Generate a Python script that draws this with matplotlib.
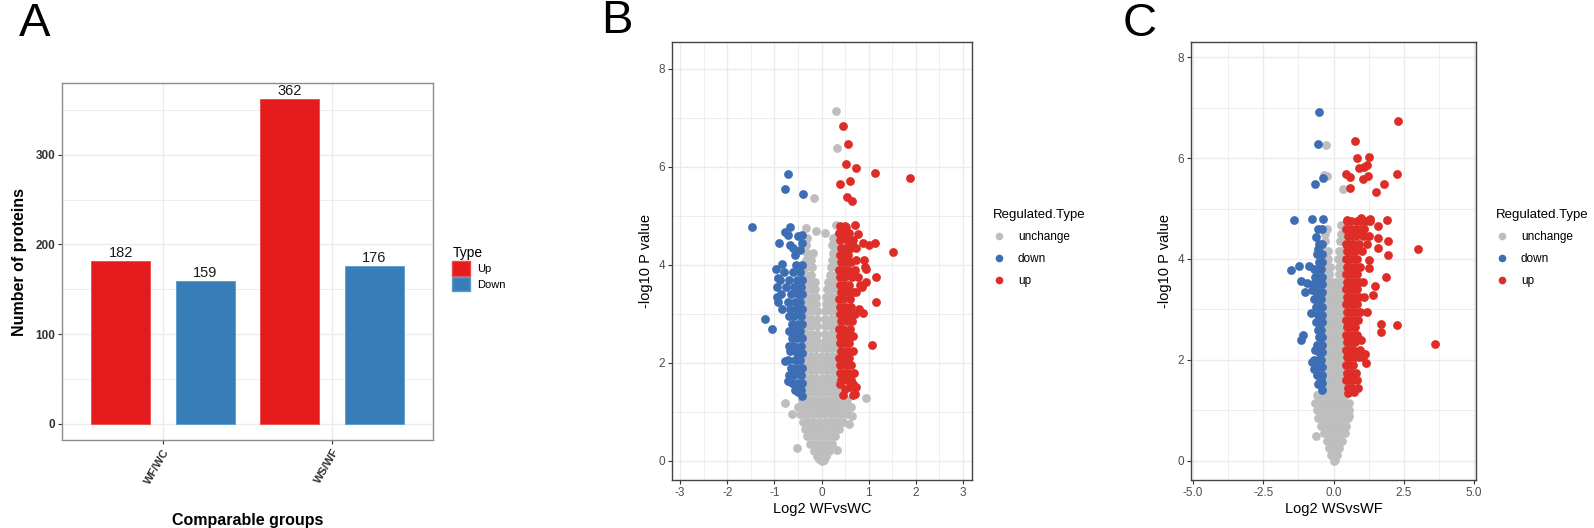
import numpy as np
import matplotlib
matplotlib.use('Agg')
from matplotlib import pyplot as plt
from matplotlib.patches import Patch
from matplotlib.lines import Line2D
from matplotlib.ticker import MultipleLocator

plt.rcParams['font.family'] = ['Liberation Sans', 'DejaVu Sans']
plt.rcParams['axes.unicode_minus'] = False

# ---- panel A data ----
groups = ['WF/WC', 'WS/WF']
up_counts = [182, 362]
down_counts = [159, 176]

# ---- panel B data (Log2 WFvsWC, -log10 P) ----
b_unchange = [
    (0.30, 7.15), (0.33, 6.38), (-0.16, 5.37), (-0.32, 4.76), (-0.11, 4.69), (0.08, 4.65), (0.30, 4.81),
    (-0.78, 1.19), (0.94, 1.29), (-0.51, 0.26), (0.64, 0.91), (0.33, 0.23), (0.58, 0.75), (-0.62, 0.95),
    (0.00, 0.00), (0.05, 0.02), (-0.05, 0.03),
    (-0.10, 0.10), (0.00, 0.10), (0.10, 0.10),
    (-0.15, 0.20), (-0.05, 0.20), (0.05, 0.20), (0.15, 0.20),
    (-0.25, 0.35), (-0.12, 0.35), (0.00, 0.35), (0.12, 0.35), (0.22, 0.35),
    (-0.30, 0.50), (-0.18, 0.50), (-0.06, 0.50), (0.06, 0.50), (0.18, 0.50), (0.28, 0.50),
    (-0.35, 0.65), (-0.22, 0.65), (-0.10, 0.65), (0.02, 0.65), (0.14, 0.65), (0.26, 0.65), (0.36, 0.65),
    (-0.40, 0.80), (-0.28, 0.80), (-0.15, 0.80), (-0.03, 0.80), (0.10, 0.80), (0.22, 0.80), (0.34, 0.80), (0.45, 0.80),
    (-0.45, 0.95), (-0.32, 0.95), (-0.20, 0.95), (-0.08, 0.95), (0.05, 0.95), (0.18, 0.95), (0.30, 0.95), (0.42, 0.95), (0.55, 0.95),
    (-0.50, 1.10), (-0.36, 1.10), (-0.24, 1.10), (-0.12, 1.10), (0.00, 1.10), (0.12, 1.10), (0.25, 1.10), (0.38, 1.10), (0.52, 1.10), (0.62, 1.10),
    (-0.42, 1.25), (-0.30, 1.25), (-0.18, 1.25), (-0.06, 1.25), (0.06, 1.25), (0.18, 1.25), (0.30, 1.25), (0.42, 1.25), (0.55, 1.25),
    (-0.35, 1.40), (-0.24, 1.40), (-0.12, 1.40), (0.00, 1.40), (0.12, 1.40), (0.24, 1.40), (0.33, 1.40),
    (-0.33, 1.55), (-0.22, 1.55), (-0.11, 1.55), (0.00, 1.55), (0.11, 1.55), (0.22, 1.55), (0.32, 1.55),
    (-0.33, 1.70), (-0.22, 1.70), (-0.11, 1.70), (0.00, 1.70), (0.11, 1.70), (0.22, 1.70), (0.32, 1.70),
    (-0.33, 1.85), (-0.22, 1.85), (-0.11, 1.85), (0.00, 1.85), (0.11, 1.85), (0.22, 1.85), (0.32, 1.85),
    (-0.33, 2.00), (-0.22, 2.00), (-0.11, 2.00), (0.00, 2.00), (0.11, 2.00), (0.22, 2.00), (0.32, 2.00),
    (-0.33, 2.15), (-0.22, 2.15), (-0.11, 2.15), (0.00, 2.15), (0.11, 2.15), (0.22, 2.15), (0.32, 2.15),
    (-0.33, 2.30), (-0.22, 2.30), (-0.11, 2.30), (0.02, 2.30), (0.12, 2.30), (0.22, 2.30), (0.32, 2.30),
    (-0.33, 2.45), (-0.22, 2.45), (-0.10, 2.45), (0.08, 2.45), (0.20, 2.45), (0.31, 2.45),
    (-0.33, 2.60), (-0.22, 2.60), (-0.10, 2.60), (0.08, 2.60), (0.20, 2.60), (0.31, 2.60),
    (-0.33, 2.75), (-0.22, 2.75), (-0.10, 2.75), (0.08, 2.75), (0.20, 2.75), (0.31, 2.75),
    (-0.33, 2.90), (-0.22, 2.90), (-0.10, 2.90), (0.08, 2.90), (0.20, 2.90), (0.31, 2.90),
    (-0.33, 3.05), (-0.22, 3.05), (-0.10, 3.05), (0.08, 3.05), (0.20, 3.05), (0.31, 3.05),
    (-0.33, 3.20), (-0.22, 3.20), (-0.12, 3.20), (0.10, 3.20), (0.21, 3.20), (0.31, 3.20),
    (-0.33, 3.35), (-0.22, 3.35), (-0.12, 3.35), (0.10, 3.35), (0.21, 3.35), (0.31, 3.35),
    (-0.33, 3.50), (-0.22, 3.50), (-0.13, 3.50), (0.12, 3.50), (0.21, 3.50), (0.31, 3.50),
    (-0.33, 3.65), (-0.22, 3.65), (-0.14, 3.65), (0.14, 3.65), (0.22, 3.65), (0.31, 3.65),
    (-0.33, 3.80), (-0.22, 3.80), (0.18, 3.80), (0.31, 3.80),
    (-0.32, 3.95), (-0.20, 3.95), (0.20, 3.95), (0.31, 3.95),
    (-0.32, 4.10), (-0.22, 4.10), (0.22, 4.10), (0.31, 4.10),
    (-0.30, 4.25), (-0.18, 4.25), (0.24, 4.25), (0.32, 4.25),
    (-0.32, 4.40), (0.22, 4.40), (0.31, 4.40),
    (-0.30, 4.55), (0.25, 4.55), (0.33, 4.60),
]
b_down = [
    (-0.71, 5.86), (-0.78, 5.56), (-0.40, 5.45), (-1.48, 4.78), (-0.66, 4.78), (-0.78, 4.67), (-0.90, 4.45),
    (-0.66, 4.40), (-0.42, 4.61), (-0.56, 4.20), (-0.97, 3.92), (-0.83, 4.01), (-0.92, 3.73), (-0.95, 3.34),
    (-0.83, 3.10), (-1.19, 2.90), (-1.04, 2.69), (-0.78, 2.03), (-0.66, 2.25), (-0.71, 1.64), (-0.49, 1.40),
    (-0.45, 4.30), (-0.60, 4.35), (-0.50, 4.60), (-0.72, 4.62), (-0.42, 4.45),
    (-0.42, 4.00), (-0.55, 4.00),
    (-0.45, 3.85), (-0.60, 3.85), (-0.80, 3.85),
    (-0.42, 3.70), (-0.52, 3.70), (-0.68, 3.70), (-0.88, 3.70),
    (-0.44, 3.55), (-0.58, 3.55), (-0.75, 3.55), (-0.95, 3.55),
    (-0.42, 3.40), (-0.50, 3.40), (-0.64, 3.40), (-0.85, 3.40),
    (-0.45, 3.25), (-0.56, 3.25), (-0.72, 3.25), (-0.92, 3.25),
    (-0.42, 3.10), (-0.52, 3.10), (-0.66, 3.10),
    (-0.44, 2.95), (-0.58, 2.95), (-0.70, 2.95),
    (-0.42, 2.80), (-0.50, 2.80), (-0.62, 2.80),
    (-0.45, 2.65), (-0.56, 2.65), (-0.68, 2.65),
    (-0.42, 2.50), (-0.53, 2.50), (-0.62, 2.50),
    (-0.44, 2.35), (-0.58, 2.35), (-0.70, 2.35),
    (-0.42, 2.20), (-0.51, 2.20),
    (-0.45, 2.05), (-0.57, 2.05), (-0.72, 2.05),
    (-0.42, 1.90), (-0.52, 1.90), (-0.64, 1.90),
    (-0.44, 1.75), (-0.58, 1.75), (-0.70, 1.75),
    (-0.42, 1.60), (-0.50, 1.60), (-0.62, 1.60),
    (-0.44, 1.45), (-0.56, 1.45),
    (-0.42, 1.32),
]
b_up = [
    (0.46, 6.84), (0.56, 6.46), (0.51, 6.06), (0.74, 5.97), (1.14, 5.88), (1.88, 5.77), (0.40, 5.66),
    (0.60, 5.72), (0.53, 5.39), (0.64, 5.31), (0.71, 4.81), (0.51, 4.78), (0.78, 4.64), (1.14, 4.45),
    (1.52, 4.26), (0.88, 4.45), (0.64, 4.44), (0.46, 4.32), (0.74, 4.11), (0.89, 4.11), (0.95, 3.92),
    (1.16, 3.75), (0.95, 3.66), (1.15, 3.24), (0.87, 3.01), (1.08, 2.37), (0.67, 1.57), (0.71, 1.36),
    (0.49, 1.46), (0.39, 1.57), (1.00, 4.40), (0.92, 3.95), (0.82, 3.60),
    (0.40, 4.80), (0.50, 4.80),
    (0.38, 4.65), (0.47, 4.65), (0.58, 4.65),
    (0.40, 4.50), (0.55, 4.50), (0.66, 4.50),
    (0.42, 4.35), (0.50, 4.35), (0.62, 4.35), (0.72, 4.35),
    (0.39, 4.20), (0.46, 4.20), (0.57, 4.20),
    (0.41, 4.05), (0.52, 4.05), (0.63, 4.05),
    (0.38, 3.90), (0.45, 3.90), (0.56, 3.90), (0.70, 3.90),
    (0.40, 3.75), (0.50, 3.75), (0.64, 3.75), (0.78, 3.75),
    (0.39, 3.60), (0.47, 3.60), (0.58, 3.60), (0.85, 3.55),
    (0.41, 3.45), (0.53, 3.45), (0.66, 3.45), (0.74, 3.45),
    (0.38, 3.30), (0.46, 3.30), (0.60, 3.30),
    (0.40, 3.15), (0.52, 3.15), (0.63, 3.15), (0.80, 3.10),
    (0.39, 3.00), (0.48, 3.00), (0.57, 3.00), (0.70, 3.00),
    (0.41, 2.85), (0.55, 2.85), (0.65, 2.85),
    (0.38, 2.70), (0.46, 2.70), (0.60, 2.70),
    (0.40, 2.55), (0.52, 2.55), (0.67, 2.55),
    (0.39, 2.40), (0.48, 2.40), (0.58, 2.40),
    (0.41, 2.25), (0.54, 2.25), (0.66, 2.25),
    (0.38, 2.10), (0.47, 2.10), (0.59, 2.10),
    (0.40, 1.95), (0.52, 1.95), (0.63, 1.95),
    (0.39, 1.80), (0.46, 1.80), (0.57, 1.80), (0.68, 1.80),
    (0.41, 1.65), (0.53, 1.65), (0.62, 1.65),
    (0.60, 1.50), (0.72, 1.50),
    (0.45, 1.35), (0.66, 1.35),
]

# ---- panel C data (Log2 WSvsWF, -log10 P) ----
c_unchange = [
    (-0.27, 6.25), (-0.33, 5.66), (-0.25, 5.65), (0.33, 5.38), (-0.63, 0.49), (0.26, 4.67), (-0.25, 4.59),
    (0.56, 0.89), (0.00, 0.00), (0.05, 0.02),
    (-0.08, 0.12), (0.05, 0.12), (0.12, 0.12),
    (-0.15, 0.25), (-0.03, 0.25), (0.10, 0.25), (0.20, 0.25),
    (-0.25, 0.40), (-0.10, 0.40), (0.05, 0.40), (0.20, 0.40), (0.30, 0.40),
    (-0.35, 0.55), (-0.20, 0.55), (-0.05, 0.55), (0.10, 0.55), (0.25, 0.55), (0.40, 0.55),
    (-0.45, 0.70), (-0.30, 0.70), (-0.15, 0.70), (0.00, 0.70), (0.15, 0.70), (0.30, 0.70), (0.45, 0.70),
    (-0.55, 0.85), (-0.40, 0.85), (-0.25, 0.85), (-0.10, 0.85), (0.05, 0.85), (0.20, 0.85), (0.35, 0.85), (0.50, 0.85),
    (-0.60, 1.00), (-0.45, 1.00), (-0.30, 1.00), (-0.15, 1.00), (0.00, 1.00), (0.15, 1.00), (0.30, 1.00), (0.45, 1.00), (0.55, 1.00),
    (-0.65, 1.15), (-0.50, 1.15), (-0.35, 1.15), (-0.20, 1.15), (-0.05, 1.15), (0.10, 1.15), (0.25, 1.15), (0.40, 1.15), (0.55, 1.15),
    (-0.60, 1.30), (-0.45, 1.30), (-0.30, 1.30), (-0.15, 1.30), (0.00, 1.30), (0.15, 1.30), (0.30, 1.30), (0.42, 1.30),
    (-0.33, 1.45), (-0.20, 1.45), (-0.07, 1.45), (0.07, 1.45), (0.20, 1.45), (0.35, 1.45),
    (-0.33, 1.60), (-0.20, 1.60), (-0.07, 1.60), (0.07, 1.60), (0.20, 1.60), (0.35, 1.60),
    (-0.33, 1.75), (-0.20, 1.75), (-0.07, 1.75), (0.07, 1.75), (0.20, 1.75), (0.35, 1.75),
    (-0.33, 1.90), (-0.20, 1.90), (-0.07, 1.90), (0.07, 1.90), (0.20, 1.90), (0.35, 1.90),
    (-0.33, 2.05), (-0.20, 2.05), (-0.07, 2.05), (0.07, 2.05), (0.20, 2.05), (0.35, 2.05),
    (-0.33, 2.20), (-0.20, 2.20), (-0.07, 2.20), (0.07, 2.20), (0.20, 2.20), (0.35, 2.20),
    (-0.33, 2.35), (-0.20, 2.35), (-0.07, 2.35), (0.07, 2.35), (0.20, 2.35), (0.35, 2.35),
    (-0.33, 2.50), (-0.20, 2.50), (-0.07, 2.50), (0.07, 2.50), (0.20, 2.50), (0.35, 2.50),
    (-0.30, 2.65), (-0.17, 2.65), (-0.04, 2.65), (0.10, 2.65), (0.23, 2.65), (0.35, 2.65),
    (-0.30, 2.80), (-0.17, 2.80), (-0.04, 2.80), (0.10, 2.80), (0.23, 2.80), (0.35, 2.80),
    (-0.30, 2.95), (-0.17, 2.95), (-0.04, 2.95), (0.10, 2.95), (0.23, 2.95), (0.35, 2.95),
    (-0.30, 3.10), (-0.17, 3.10), (-0.04, 3.10), (0.10, 3.10), (0.23, 3.10), (0.35, 3.10),
    (-0.30, 3.25), (-0.17, 3.25), (-0.04, 3.25), (0.10, 3.25), (0.23, 3.25), (0.35, 3.25),
    (-0.30, 3.40), (-0.17, 3.40), (-0.04, 3.40), (0.10, 3.40), (0.23, 3.40), (0.35, 3.40),
    (-0.30, 3.55), (-0.17, 3.55), (-0.04, 3.55), (0.10, 3.55), (0.23, 3.55), (0.35, 3.55),
    (-0.30, 3.70), (-0.15, 3.70), (0.20, 3.70), (0.33, 3.70),
    (-0.28, 3.85), (-0.12, 3.85), (0.18, 3.85), (0.30, 3.85),
    (-0.30, 4.00), (-0.18, 4.00), (0.15, 4.00), (0.28, 4.00),
    (-0.32, 4.15), (-0.20, 4.15), (0.20, 4.15), (0.30, 4.15),
    (-0.30, 4.35), (0.22, 4.35), (0.32, 4.35),
    (-0.30, 4.50), (0.28, 4.50),
]
c_down = [
    (-0.50, 6.92), (-0.55, 6.28), (-0.65, 5.49), (-0.39, 5.60), (-1.39, 4.77), (-0.75, 4.79), (-0.39, 4.79),
    (-0.63, 4.44), (-0.57, 4.19), (-1.22, 3.86), (-1.52, 3.79), (-0.87, 3.86), (-1.14, 3.56), (-0.96, 3.53),
    (-1.02, 3.35), (-0.75, 3.39), (-0.81, 2.92), (-1.07, 2.50), (-1.16, 2.39), (-0.65, 2.19), (-0.75, 1.96),
    (-0.69, 1.82), (-0.45, 1.62), (-0.57, 1.52),
    (-0.42, 4.60), (-0.55, 4.60),
    (-0.40, 4.30), (-0.52, 4.30),
    (-0.42, 4.10), (-0.60, 4.10),
    (-0.40, 3.95), (-0.50, 3.95),
    (-0.43, 3.80), (-0.58, 3.80), (-0.70, 3.80),
    (-0.40, 3.65), (-0.52, 3.65), (-0.65, 3.65),
    (-0.42, 3.50), (-0.56, 3.50), (-0.72, 3.50),
    (-0.40, 3.35), (-0.50, 3.35), (-0.62, 3.35),
    (-0.43, 3.20), (-0.55, 3.20), (-0.70, 3.20),
    (-0.40, 3.05), (-0.52, 3.05), (-0.64, 3.05),
    (-0.42, 2.90), (-0.56, 2.90),
    (-0.40, 2.75), (-0.50, 2.75), (-0.62, 2.75),
    (-0.43, 2.60), (-0.55, 2.60),
    (-0.40, 2.45), (-0.52, 2.45),
    (-0.42, 2.30), (-0.58, 2.30),
    (-0.40, 2.15), (-0.50, 2.15),
    (-0.43, 2.00), (-0.55, 2.00), (-0.68, 2.00),
    (-0.40, 1.85), (-0.52, 1.85),
    (-0.42, 1.70), (-0.58, 1.70),
    (-0.40, 1.55), (-0.50, 1.55),
    (-0.42, 1.40),
]
c_up = [
    (0.76, 6.33), (2.29, 6.73), (0.85, 6.00), (1.25, 6.02), (1.09, 5.82), (0.90, 5.80), (1.19, 5.86),
    (0.46, 5.68), (0.57, 5.63), (2.25, 5.68), (1.23, 5.65), (1.04, 5.58), (1.78, 5.48), (0.59, 5.41),
    (1.52, 5.32), (1.90, 4.78), (1.57, 4.66), (0.47, 4.78), (0.97, 4.81), (1.28, 4.79), (1.92, 4.35),
    (1.57, 4.41), (1.59, 4.21), (2.99, 4.19), (1.92, 4.08), (1.26, 3.98), (1.27, 3.83), (1.85, 3.65),
    (1.46, 3.46), (1.42, 3.28), (2.25, 2.70), (1.68, 2.71), (1.68, 2.56), (3.61, 2.31), (1.15, 1.94),
    (0.50, 1.34), (0.74, 1.36), (0.97, 2.39), (1.12, 2.12),
    (0.48, 4.75), (0.62, 4.75), (0.85, 4.75), (1.00, 4.75), (1.15, 4.75), (1.30, 4.75),
    (0.45, 4.60), (0.58, 4.60), (0.75, 4.60), (0.95, 4.60), (1.10, 4.60),
    (0.50, 4.45), (0.65, 4.45), (0.80, 4.45), (1.05, 4.45), (1.25, 4.45),
    (0.45, 4.30), (0.55, 4.30), (0.70, 4.30), (0.90, 4.30), (1.20, 4.30),
    (0.48, 4.15), (0.62, 4.15), (0.78, 4.15), (1.00, 4.15),
    (0.45, 4.00), (0.55, 4.00), (0.68, 4.00), (0.85, 4.00),
    (0.48, 3.85), (0.60, 3.85), (0.75, 3.85), (0.95, 3.85),
    (0.45, 3.70), (0.55, 3.70), (0.68, 3.70), (0.82, 3.70),
    (0.48, 3.55), (0.62, 3.55), (0.78, 3.55), (0.92, 3.55), (1.05, 3.55),
    (0.45, 3.40), (0.56, 3.40), (0.70, 3.40), (0.85, 3.40),
    (0.48, 3.25), (0.60, 3.25), (0.75, 3.25), (0.90, 3.25), (1.10, 3.25),
    (0.45, 3.10), (0.55, 3.10), (0.68, 3.10), (0.82, 3.10),
    (0.48, 2.95), (0.62, 2.95), (0.78, 2.95), (0.95, 2.95), (1.20, 2.95),
    (0.45, 2.80), (0.56, 2.80), (0.70, 2.80), (0.88, 2.80),
    (0.48, 2.65), (0.60, 2.65), (0.75, 2.65),
    (0.45, 2.50), (0.55, 2.50), (0.68, 2.50), (0.85, 2.50),
    (0.48, 2.35), (0.62, 2.35), (0.78, 2.35),
    (0.45, 2.20), (0.56, 2.20), (0.70, 2.20), (0.95, 2.20),
    (0.48, 2.05), (0.60, 2.05), (0.75, 2.05), (0.90, 2.05), (1.05, 2.05),
    (0.45, 1.90), (0.55, 1.90), (0.68, 1.90),
    (0.48, 1.75), (0.62, 1.75), (0.80, 1.75),
    (0.45, 1.60), (0.58, 1.60), (0.70, 1.60), (0.85, 1.60),
    (0.50, 1.45), (0.65, 1.45), (0.88, 1.45),
]

RED_BAR = '#E41A1C'
BLUE_BAR = '#377EB8'
GREY_PT = '#BEBEBE'
BLUE_PT = '#3D6EB4'
RED_PT = '#DE2D26'
GRID = '#EBEBEB'

fig = plt.figure(figsize=(15.94, 5.28), dpi=100)


def style_panel(ax, border):
    ax.set_facecolor('white')
    ax.grid(True, which='major', color=GRID, linewidth=1.0, zorder=0)
    ax.grid(True, which='minor', color=GRID, linewidth=0.6, zorder=0)
    ax.set_axisbelow(True)
    for s in ax.spines.values():
        s.set_color(border)
        s.set_linewidth(1.0)
    ax.tick_params(which='major', length=3, width=0.8, color='#333333', labelcolor='#4D4D4D', pad=2)
    ax.tick_params(which='minor', length=0)


# ---- panel A ----
axA = fig.add_axes([0.0389, 0.1667, 0.2328, 0.676])
style_panel(axA, '#8C8C8C')
pos = np.arange(1, len(groups) + 1)
w = 0.35
b1 = axA.bar(pos - 0.25, up_counts, width=w, color=RED_BAR, edgecolor='#F04848', linewidth=0.6, zorder=2)
b2 = axA.bar(pos + 0.25, down_counts, width=w, color=BLUE_BAR, edgecolor='#5C9AD0', linewidth=0.6, zorder=2)
for bars in (b1, b2):
    for r in bars:
        axA.text(r.get_x() + r.get_width() / 2, r.get_height() + 1, str(int(r.get_height())),
                 ha='center', va='bottom', fontsize=10.5, color='#1A1A1A')
axA.set_xlim(0.404, 2.596)
axA.set_ylim(-18.1, 380.1)
axA.set_xticks(pos)
axA.set_xticklabels(groups, rotation=60, ha='right', va='top', rotation_mode='anchor',
                    fontsize=8, fontweight='bold', color='#333333')
axA.set_yticks([0, 100, 200, 300])
axA.yaxis.set_minor_locator(MultipleLocator(50))
for lab in axA.get_yticklabels():
    lab.set_fontweight('bold')
    lab.set_fontsize(8.5)
    lab.set_color('#333333')
axA.set_ylabel('Number of proteins', fontsize=11.5, fontweight='bold', labelpad=6)
axA.set_xlabel('Comparable groups', fontsize=11.5, fontweight='bold', labelpad=20)
legA = axA.legend(handles=[Patch(facecolor=RED_BAR, edgecolor='#F04848', label='Up'),
                           Patch(facecolor=BLUE_BAR, edgecolor='#5C9AD0', label='Down')],
                  title='Type', loc='center left', bbox_to_anchor=(1.04, 0.48), frameon=False,
                  fontsize=8, title_fontsize=10, handlelength=1.6, handleheight=1.6,
                  handletextpad=0.6, labelspacing=0.1, borderaxespad=0)
legA._legend_box.align = 'left'

# ---- panels B and C ----


def volcano(rect, unchange, down, up, xlim, ylim, xticks, xminor, xlabel):
    ax = fig.add_axes(rect)
    style_panel(ax, '#444444')
    for pts, col in ((unchange, GREY_PT), (down, BLUE_PT), (up, RED_PT)):
        arr = np.array(pts)
        ax.scatter(arr[:, 0], arr[:, 1], s=40, color=col, linewidths=0, zorder=3)
    ax.set_xlim(*xlim)
    ax.set_ylim(*ylim)
    ax.set_xticks(xticks)
    ax.xaxis.set_minor_locator(MultipleLocator(xminor))
    ax.set_yticks([0, 2, 4, 6, 8])
    ax.yaxis.set_minor_locator(MultipleLocator(1))
    ax.tick_params(labelsize=8.5)
    ax.set_xlabel(xlabel, fontsize=10.5, labelpad=2)
    ax.set_ylabel('-log10 P value', fontsize=10.5, labelpad=4)
    handles = [Line2D([], [], marker='o', linestyle='', markersize=5.5, markerfacecolor=c,
                      markeredgewidth=0, label=l)
               for c, l in ((GREY_PT, 'unchange'), (BLUE_PT, 'down'), (RED_PT, 'up'))]
    leg = ax.legend(handles=handles, title='Regulated.Type', loc='center left',
                    bbox_to_anchor=(1.07, 0.53), frameon=False, fontsize=8.5, title_fontsize=9.5,
                    handlelength=1.0, handletextpad=1.1, labelspacing=0.85, borderaxespad=0,
                    borderpad=0)
    leg._legend_box.align = 'left'
    return ax


axB = volcano([0.4216, 0.0909, 0.1882, 0.8295], b_unchange, b_down, b_up,
              (-3.17, 3.19), (-0.39, 8.55), [-3, -2, -1, 0, 1, 2, 3], 0.5, 'Log2 WFvsWC')
axC = volcano([0.7472, 0.0909, 0.1788, 0.8295], c_unchange, c_down, c_up,
              (-5.07, 5.07), (-0.38, 8.3), [-5.0, -2.5, 0.0, 2.5, 5.0], 1.25, 'Log2 WSvsWF')
axC.set_xticklabels(['-5.0', '-2.5', '0.0', '2.5', '5.0'])

# panel letters
fig.text(0.012, 0.955, 'A', fontsize=34, va='center', ha='left')
fig.text(0.377, 0.96, 'B', fontsize=34, va='center', ha='left')
fig.text(0.704, 0.955, 'C', fontsize=34, va='center', ha='left')

fig.savefig('out.png', dpi=100, facecolor='white')
